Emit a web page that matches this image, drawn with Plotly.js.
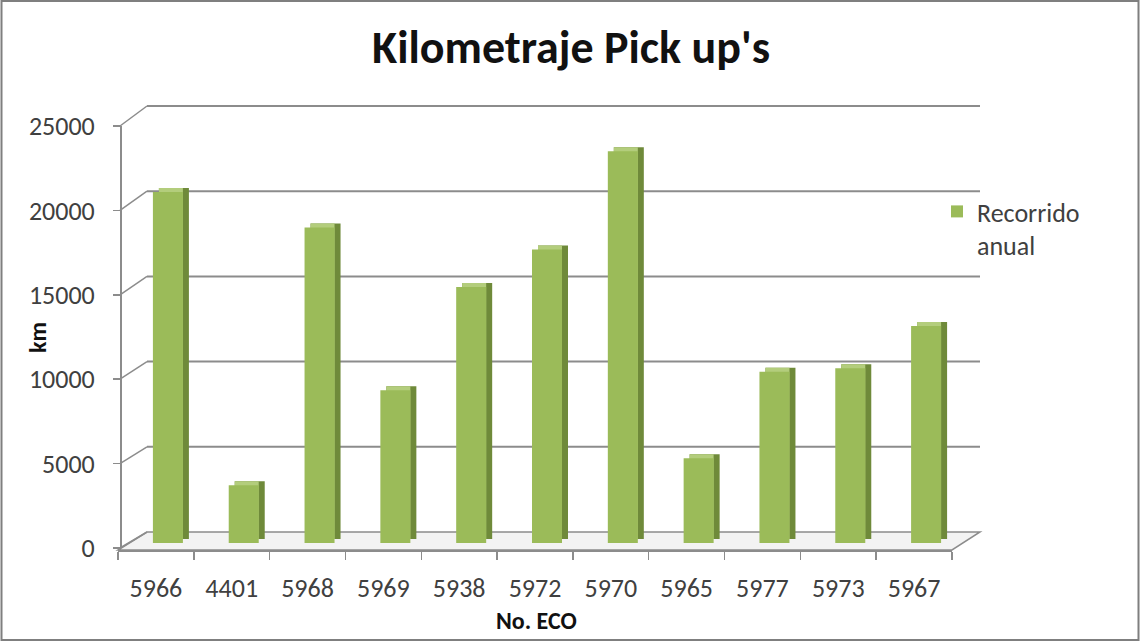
<!DOCTYPE html>
<html>
<head>
<meta charset="utf-8">
<script src="https://cdn.plot.ly/plotly-3.0.1.min.js"></script>
<style>html,body{margin:0;padding:0;background:#fff;}#chart{width:1140px;height:642px;}</style>
</head>
<body>
<div id="chart"></div>
<script>
// ---- data ----
const categories = ['5966','4401','5968','5969','5938','5972','5970','5965','5977','5973','5967'];
const recorridoAnual = [20700, 3400, 18600, 9000, 15100, 17300, 23100, 5000, 10100, 10300, 12800];
const yTicks = [0, 5000, 10000, 15000, 20000, 25000];
const seriesName = 'Recorrido<br>anual';
const chartTitle = "Kilometraje Pick up's";
const xTitle = 'No. ECO';
const yTitle = 'km';

// ---- geometry helpers (pixel -> paper) ----
const W = 1140, H = 642;
const px = x => x / W;
const py = y => 1 - y / H;
const FRONT_ZERO = 548, FRONT_TOP = 126;   // front label axis: 0 .. 25000
const BACK_ZERO = 532, BACK_TOP = 106;     // back wall grid
const X_LEFT = 118, X_RIGHT = 952, BACK_LEFT = 147, BACK_RIGHT = 980;
const yMax = yTicks[yTicks.length - 1];
const frontY = v => FRONT_ZERO - (FRONT_ZERO - FRONT_TOP) * v / yMax;
const backY = v => BACK_ZERO - (BACK_ZERO - BACK_TOP) * v / yMax;

const gridColor = '#8c8c8c';
const shapes = [];
// floor
shapes.push({type:'path', xref:'paper', yref:'paper', layer:'below',
  path:`M ${px(X_LEFT)} ${py(550)} L ${px(X_RIGHT)} ${py(550)} L ${px(BACK_RIGHT)} ${py(BACK_ZERO)} L ${px(BACK_LEFT)} ${py(BACK_ZERO)} Z`,
  fillcolor:'#f3f3f3', line:{color:gridColor, width:1.5}});
yTicks.forEach(v => {
  // side wall connector
  shapes.push({type:'line', xref:'paper', yref:'paper', layer:'below',
    x0:px(120), y0:py(frontY(v)), x1:px(BACK_LEFT), y1:py(backY(v)),
    line:{color:gridColor, width:1.5}});
  if (v > 0) {
    shapes.push({type:'line', xref:'paper', yref:'paper', layer:'below',
      x0:px(BACK_LEFT), y0:py(backY(v)), x1:px(BACK_RIGHT), y1:py(backY(v)),
      line:{color:gridColor, width:2}});
  }
});
// outer border
shapes.push({type:'rect', xref:'paper', yref:'paper', x0:px(1.5), y0:py(640), x1:px(1138.5), y1:py(1),
  line:{color:'#7f7f7f', width:2}, fillcolor:'rgba(0,0,0,0)'});

const catPx = (X_RIGHT - X_LEFT) / categories.length;
const u = p => p / catPx; // pixels -> category units

const traces = [
  // dummy trace for the front label axis
  {type:'scatter', x:[categories[0]], y:[0], xaxis:'x', yaxis:'y', mode:'markers',
   marker:{opacity:0}, showlegend:false, hoverinfo:'skip'},
  // side face (dark), on back-depth axis
  {type:'bar', x:categories, y:recorridoAnual, xaxis:'x', yaxis:'y2', offset:u(3), width:u(30),
   marker:{color:'#6f8a3a', line:{width:0}}, showlegend:false, hoverinfo:'skip'},
  // top face
  {type:'bar', x:categories, y:recorridoAnual, xaxis:'x', yaxis:'y2', offset:u(3), width:u(24),
   marker:{color:'#b3cd7c', line:{width:0}}, showlegend:false, hoverinfo:'skip'},
  // front face
  {type:'bar', name:seriesName, x:categories, y:recorridoAnual, xaxis:'x', yaxis:'y3', offset:u(-3), width:u(30),
   marker:{color:'#9bbb59', line:{width:0}}, showlegend:true}
];

const layout = {
  width: W, height: H,
  margin:{l:0, r:0, t:0, b:0},
  paper_bgcolor:'#ffffff', plot_bgcolor:'rgba(0,0,0,0)',
  font:{family:'Carlito, Lato, "Open Sans", sans-serif', color:'#404040'},
  barmode:'overlay',
  title:{text:'<b>' + chartTitle + '</b>', x:px(571), xanchor:'center', y:py(47), yanchor:'middle',
    yref:'container', xref:'container', font:{size:46, color:'#111111'}},
  xaxis:{type:'category', domain:[px(X_LEFT), px(X_RIGHT)], range:[-0.5, categories.length - 0.5],
    anchor:'free', position:py(550), showline:true, linecolor:gridColor, linewidth:1.5,
    ticks:'outside', tickson:'boundaries', ticklen:8, tickcolor:gridColor, tickwidth:1.5,
    showgrid:false, zeroline:false, tickfont:{size:26, color:'#404040'}, ticklabelstandoff:14,
    automargin:false, fixedrange:true},
  yaxis:{domain:[py(FRONT_ZERO), py(FRONT_TOP)], range:[0, yMax], anchor:'free', position:px(120),
    tickvals:yTicks, ticktext:yTicks.map(String), showline:true, linecolor:gridColor, linewidth:1.5,
    ticks:'outside', ticklen:7, tickcolor:gridColor, tickwidth:1.5, showgrid:false, zeroline:false,
    tickfont:{size:26, color:'#404040'}, ticklabelstandoff:13, automargin:false, fixedrange:true},
  yaxis2:{domain:[py(539), py(98)], range:[0, 26000], anchor:'free', position:0, visible:false, fixedrange:true},
  yaxis3:{domain:[py(543), py(102)], range:[0, 26000], anchor:'free', position:0, visible:false, fixedrange:true},
  legend:{x:px(937), y:py(188), xanchor:'left', yanchor:'top', valign:'top',
    font:{size:26, color:'#404040'}, bgcolor:'rgba(0,0,0,0)', tracegroupgap:0},
  annotations:[
    {text:'<b>' + yTitle + '</b>', textangle:-90, xref:'paper', yref:'paper', x:px(38), y:py(338),
     xanchor:'center', yanchor:'middle', showarrow:false, font:{size:24, color:'#111111'}},
    {text:'<b>' + xTitle + '</b>', xref:'paper', yref:'paper', x:px(536), y:py(620),
     xanchor:'center', yanchor:'middle', showarrow:false, font:{size:24, color:'#111111'}}
  ],
  shapes: shapes
};

Plotly.newPlot('chart', traces, layout, {displayModeBar:false, staticPlot:true});
</script>
</body>
</html>
